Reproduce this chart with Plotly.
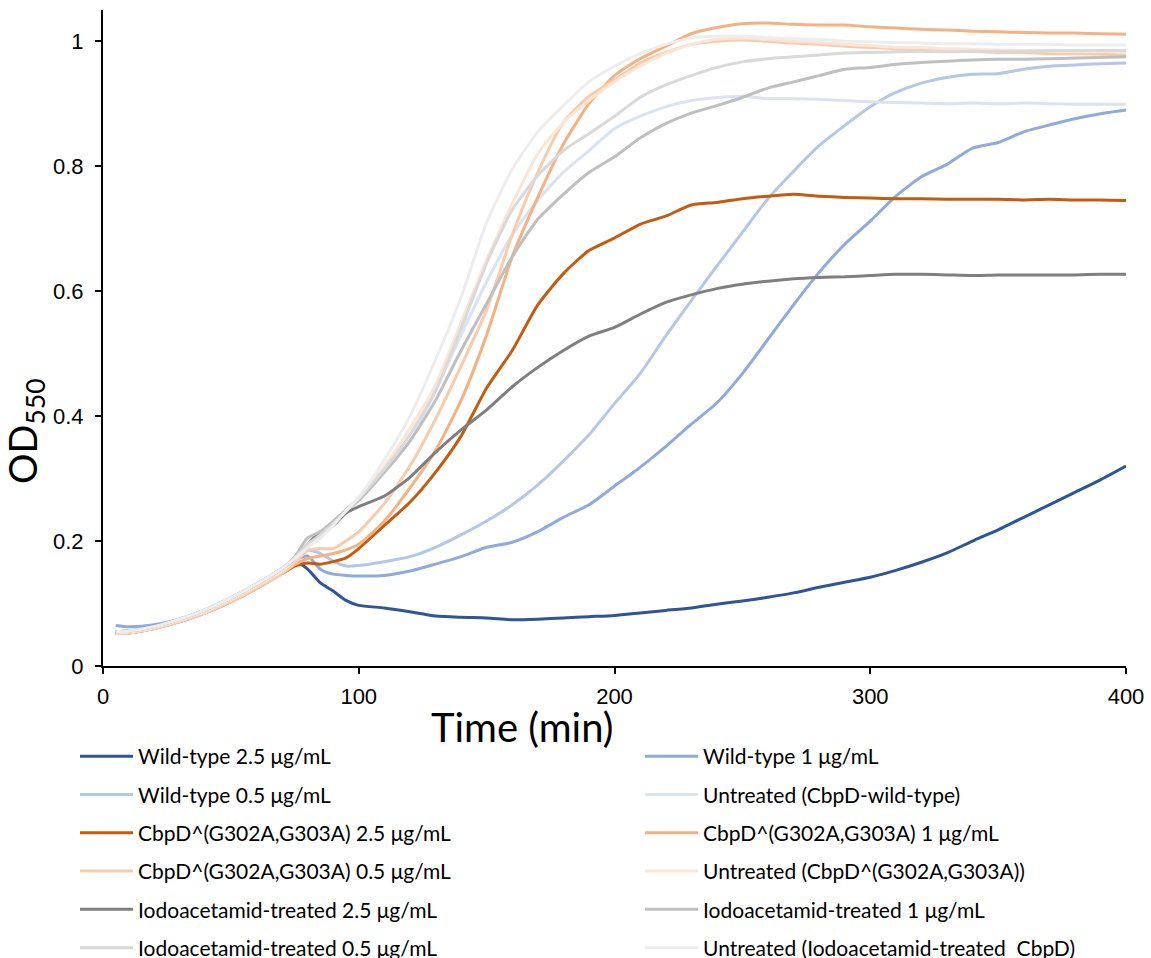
import plotly.graph_objects as go

time = [5, 10, 20, 30, 40, 50, 60, 70, 75, 80, 85, 90, 95, 100,
        110, 120, 130, 140, 150, 160, 170, 180, 190, 200, 210, 220, 230, 240, 250,
        260, 270, 280, 290, 300, 310, 320, 330, 340, 350, 360, 370, 380, 390, 400]

wt_25 = [0.055, 0.056, 0.062, 0.074, 0.089, 0.108, 0.130, 0.155, 0.168, 0.155, 0.133, 0.120, 0.105, 0.097,
         0.093, 0.087, 0.080, 0.078, 0.077, 0.074, 0.075, 0.077, 0.079, 0.081, 0.085, 0.089, 0.093, 0.099, 0.104,
         0.110, 0.117, 0.126, 0.134, 0.142, 0.153, 0.166, 0.181, 0.200, 0.218, 0.238, 0.258, 0.278, 0.298, 0.320]
wt_1 = [0.065, 0.063, 0.066, 0.075, 0.089, 0.108, 0.130, 0.155, 0.170, 0.176, 0.155, 0.147, 0.145, 0.144,
        0.145, 0.152, 0.163, 0.175, 0.190, 0.198, 0.215, 0.238, 0.258, 0.288, 0.318, 0.351, 0.387, 0.421, 0.468,
        0.523, 0.578, 0.630, 0.675, 0.712, 0.752, 0.783, 0.803, 0.829, 0.838, 0.855, 0.866, 0.876, 0.884, 0.890]
wt_05 = [0.055, 0.055, 0.062, 0.074, 0.089, 0.108, 0.130, 0.155, 0.172, 0.185, 0.180, 0.168, 0.160, 0.161,
         0.167, 0.175, 0.190, 0.210, 0.232, 0.258, 0.290, 0.328, 0.370, 0.420, 0.468, 0.528, 0.585, 0.640, 0.694,
         0.748, 0.792, 0.833, 0.865, 0.895, 0.918, 0.933, 0.942, 0.947, 0.948, 0.955, 0.960, 0.962, 0.964, 0.965]
wt_untr = [0.055, 0.055, 0.062, 0.074, 0.089, 0.108, 0.130, 0.155, 0.172, 0.190, 0.205, 0.225, 0.245, 0.265,
           0.310, 0.360, 0.440, 0.530, 0.615, 0.690, 0.745, 0.790, 0.825, 0.860, 0.880, 0.895, 0.905, 0.910, 0.912,
           0.908, 0.908, 0.907, 0.905, 0.903, 0.902, 0.901, 0.900, 0.901, 0.900, 0.901, 0.900, 0.899, 0.899, 0.899]

cbp_25 = [0.052, 0.053, 0.060, 0.071, 0.085, 0.103, 0.124, 0.148, 0.160, 0.165, 0.163, 0.167, 0.173, 0.188,
          0.225, 0.262, 0.310, 0.368, 0.445, 0.505, 0.578, 0.628, 0.665, 0.685, 0.707, 0.720, 0.738, 0.742, 0.748,
          0.752, 0.755, 0.752, 0.750, 0.749, 0.748, 0.748, 0.747, 0.747, 0.747, 0.746, 0.747, 0.746, 0.746, 0.745]
cbp_1 = [0.052, 0.053, 0.060, 0.071, 0.085, 0.103, 0.124, 0.148, 0.162, 0.172, 0.176, 0.180, 0.186, 0.195,
         0.232, 0.285, 0.345, 0.425, 0.530, 0.655, 0.750, 0.835, 0.900, 0.945, 0.972, 0.992, 1.012, 1.022, 1.028,
         1.029, 1.027, 1.026, 1.026, 1.023, 1.021, 1.019, 1.018, 1.016, 1.015, 1.014, 1.013, 1.013, 1.012, 1.011]
cbp_05 = [0.052, 0.053, 0.060, 0.071, 0.085, 0.103, 0.124, 0.148, 0.165, 0.185, 0.188, 0.188, 0.200, 0.215,
          0.260, 0.320, 0.395, 0.480, 0.570, 0.690, 0.790, 0.870, 0.912, 0.938, 0.965, 0.982, 0.995, 1.000, 1.002,
          1.000, 0.997, 0.995, 0.992, 0.990, 0.988, 0.986, 0.985, 0.984, 0.982, 0.982, 0.980, 0.980, 0.979, 0.978]
cbp_untr = [0.053, 0.054, 0.061, 0.073, 0.087, 0.106, 0.128, 0.152, 0.170, 0.190, 0.210, 0.230, 0.250, 0.270,
            0.320, 0.380, 0.450, 0.550, 0.650, 0.740, 0.820, 0.870, 0.905, 0.935, 0.960, 0.980, 0.995, 1.003, 1.005,
            1.003, 1.000, 0.998, 0.995, 0.993, 0.990, 0.990, 0.988, 0.987, 0.986, 0.985, 0.985, 0.984, 0.984, 0.983]

iodo_25 = [0.055, 0.056, 0.063, 0.075, 0.090, 0.109, 0.131, 0.156, 0.172, 0.195, 0.215, 0.225, 0.245, 0.255,
           0.272, 0.302, 0.342, 0.378, 0.410, 0.447, 0.478, 0.505, 0.528, 0.542, 0.563, 0.582, 0.594, 0.604, 0.611,
           0.616, 0.620, 0.622, 0.623, 0.625, 0.627, 0.627, 0.626, 0.625, 0.626, 0.626, 0.626, 0.626, 0.627, 0.627]
iodo_1 = [0.055, 0.056, 0.063, 0.075, 0.090, 0.109, 0.131, 0.156, 0.175, 0.205, 0.215, 0.232, 0.250, 0.265,
          0.310, 0.360, 0.425, 0.505, 0.580, 0.655, 0.715, 0.755, 0.790, 0.815, 0.845, 0.868, 0.885, 0.897, 0.910,
          0.925, 0.935, 0.945, 0.955, 0.958, 0.963, 0.966, 0.968, 0.970, 0.971, 0.971, 0.972, 0.973, 0.974, 0.975]
iodo_05 = [0.055, 0.056, 0.063, 0.075, 0.090, 0.109, 0.131, 0.156, 0.173, 0.195, 0.210, 0.228, 0.248, 0.268,
           0.315, 0.370, 0.440, 0.540, 0.645, 0.730, 0.785, 0.825, 0.852, 0.880, 0.910, 0.930, 0.945, 0.958, 0.967,
           0.972, 0.975, 0.978, 0.981, 0.982, 0.983, 0.984, 0.983, 0.984, 0.984, 0.984, 0.985, 0.985, 0.985, 0.985]
iodo_untr = [0.055, 0.056, 0.063, 0.075, 0.090, 0.109, 0.131, 0.156, 0.172, 0.190, 0.205, 0.225, 0.248, 0.270,
             0.330, 0.400, 0.490, 0.590, 0.710, 0.795, 0.855, 0.897, 0.935, 0.960, 0.980, 0.995, 1.005, 1.008, 1.008,
             1.006, 1.004, 1.003, 1.000, 0.999, 0.998, 0.997, 0.996, 0.996, 0.995, 0.995, 0.995, 0.994, 0.994, 0.994]

series_names = [
    "Wild-type 2.5 μg/mL", "Wild-type 1 μg/mL", "Wild-type 0.5 μg/mL", "Untreated (CbpD-wild-type)",
    "CbpD^(G302A,G303A) 2.5 μg/mL", "CbpD^(G302A,G303A) 1 μg/mL", "CbpD^(G302A,G303A) 0.5 μg/mL",
    "Untreated (CbpD^(G302A,G303A))",
    "Iodoacetamid-treated 2.5 μg/mL", "Iodoacetamid-treated 1 μg/mL", "Iodoacetamid-treated 0.5 μg/mL",
    "Untreated (Iodoacetamid-treated  CbpD)",
]
series_values = [wt_25, wt_1, wt_05, wt_untr, cbp_25, cbp_1, cbp_05, cbp_untr,
                 iodo_25, iodo_1, iodo_05, iodo_untr]
colors = ["#2F5597", "#8FAADC", "#B4C7E7", "#DAE3F3",
          "#C55A11", "#F4B183", "#F8CBAD", "#FBE5D6",
          "#7F7F7F", "#BFBFBF", "#D9D9D9", "#EDEDED"]

fig = go.Figure()
for i, (name, vals, col) in enumerate(zip(series_names, series_values, colors)):
    fig.add_trace(go.Scatter(
        x=time, y=vals, name=name, mode="lines",
        line=dict(color=col, width=3, shape="spline", smoothing=0.6),
        legend="legend" if i % 2 == 0 else "legend2",
        legendgroup=f"g{i}",
    ))

legend_common = dict(
    orientation="v", xref="container", yref="container", yanchor="top", xanchor="left",
    font=dict(family="Lato", size=21, color="#000000"),
    tracegroupgap=8, itemwidth=53, bgcolor="rgba(0,0,0,0)", traceorder="grouped",
)
fig.update_layout(
    width=1151, height=958,
    margin=dict(l=103, r=25, t=10, b=292, autoexpand=False),
    plot_bgcolor="white", paper_bgcolor="white",
    showlegend=True,
    legend=dict(x=75 / 1151, y=1 - 736 / 958, **legend_common),
    legend2=dict(x=640 / 1151, y=1 - 736 / 958, **legend_common),
    xaxis=dict(range=[0, 400], dtick=100, showgrid=False, zeroline=False,
               showline=True, linecolor="black", linewidth=2,
               ticks="outside", ticklen=6, tickwidth=2, tickcolor="black",
               tickfont=dict(family="Liberation Sans", size=22, color="black"),
               ticklabelstandoff=4),
    yaxis=dict(range=[0, 1.05], tickvals=[0, 0.2, 0.4, 0.6, 0.8, 1],
               ticktext=["0", "0.2", "0.4", "0.6", "0.8", "1"],
               showgrid=False, zeroline=False,
               showline=True, linecolor="black", linewidth=2,
               ticks="outside", ticklen=6, tickwidth=2, tickcolor="black",
               tickfont=dict(family="Liberation Sans", size=22, color="black"),
               ticklabelstandoff=7),
    annotations=[
        dict(text="Time (min)", xref="paper", yref="paper", x=(522 - 103) / 1023, y=-(727 - 666) / 656,
             xanchor="center", yanchor="middle", showarrow=False,
             font=dict(family="Lato", size=40, color="black")),
        dict(text="OD<sub>550</sub>", xref="paper", yref="paper", x=-(103 - 25) / 1023, y=(666 - 431) / 656,
             xanchor="center", yanchor="middle", showarrow=False, textangle=-90,
             font=dict(family="Lato", size=38, color="black")),
    ],
)
fig.write_html("out.html")
